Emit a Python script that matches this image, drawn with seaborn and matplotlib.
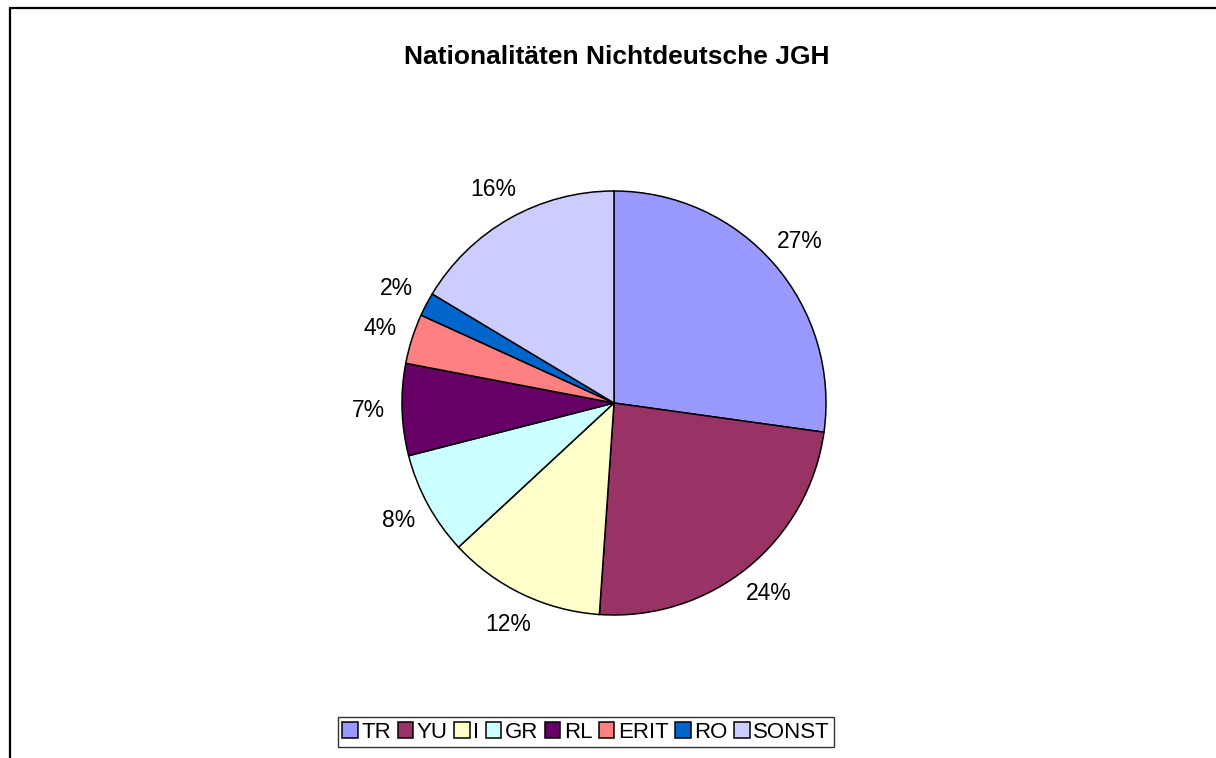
import matplotlib
matplotlib.use("Agg")
import matplotlib.pyplot as plt
import seaborn as sns
from matplotlib.lines import Line2D

# Daten
nationen = ['TR', 'YU', 'I', 'GR', 'RL', 'ERIT', 'RO', 'SONST']
anteile = [27.2, 23.9, 12.0, 7.9, 7.0, 3.8, 1.8, 16.4]
farben = ['#9999FF', '#993366', '#FFFFCC', '#CCFFFF', '#660066', '#FF8080', '#0066CC', '#CCCCFF']
titel = 'Nationalitäten Nichtdeutsche JGH'

sns.set_theme(style="white")
plt.rcParams['font.family'] = ['Liberation Sans', 'DejaVu Sans']
plt.rcParams['text.color'] = 'black'

W, H = 1216, 758
fig = plt.figure(figsize=(W / 100, H / 100), dpi=100)

# Achse so legen, dass der Kreis bei (614, 403) mit Radius 212 px sitzt
cx, cy, r = 614, 403, 212
ax = fig.add_axes([(cx - r) / W, 1 - (cy + r) / H, 2 * r / W, 2 * r / H])

wedges, texte, prozente = ax.pie(
    anteile, colors=farben, startangle=90, counterclock=False,
    autopct=lambda p: f'{p:.0f}%', pctdistance=1.16, radius=1,
    wedgeprops=dict(edgecolor='black', linewidth=1.1),
    textprops=dict(fontsize=16.5, color='black'))
ax.set_xlim(-1, 1)
ax.set_ylim(-1, 1)
ax.set_aspect('equal')
ax.axis('off')

fig.text(617 / W, 1 - 57 / H, titel, ha='center', va='center',
         fontsize=19, fontweight='bold', color='black')

leg = fig.legend(wedges, nationen, loc='center', bbox_to_anchor=(586 / W, 1 - 732 / H),
                 ncol=len(nationen), fontsize=16, frameon=True, fancybox=False,
                 edgecolor='black', handlelength=0.7, handleheight=0.7,
                 handletextpad=0.15, columnspacing=0.3, borderpad=0.2,
                 borderaxespad=0)
leg.get_frame().set_linewidth(1.0)
for t in leg.get_texts():
    t.set_color('black')

# Rahmen oben und links
fig.add_artist(Line2D([10 / W, 1], [1 - 8 / H, 1 - 8 / H], color='black', linewidth=1.6))
fig.add_artist(Line2D([10 / W, 10 / W], [0, 1 - 8 / H], color='black', linewidth=1.6))

fig.savefig('out.png', dpi=100, facecolor='white')
